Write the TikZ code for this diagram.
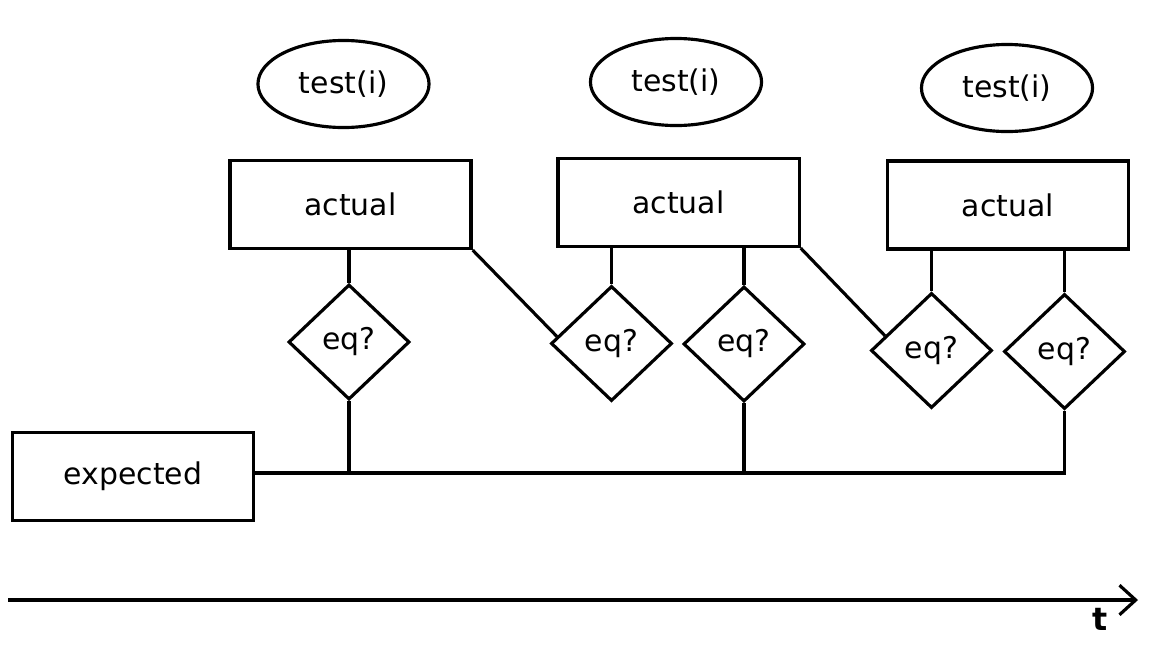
\documentclass[tikz,border=0pt]{standalone}
\usepackage{fontspec}
\setmainfont{DejaVu Sans}
\usetikzlibrary{shapes.geometric,arrows.meta,calc}
\begin{document}
\begin{tikzpicture}[x=0.01cm,y=-0.01cm,
  line width=0.9pt,
  every node/.style={font=\fontsize{8.5}{10}\selectfont, inner sep=0pt},
  testbubble/.style={draw, ellipse, minimum width=1.71cm, minimum height=0.87cm},
  valuebox/.style={draw, rectangle, minimum width=2.41cm, minimum height=0.88cm},
  check/.style={draw, diamond, minimum width=1.21cm, minimum height=1.15cm},
  timeline/.style={-{Straight Barb[length=4.6pt,width=8.4pt,line width=0.9pt]}}]
\useasboundingbox (0,0) rectangle (1152,648);

% test invocations
\node[testbubble] (t1) at (343.5,84) {test(i)};
\node[testbubble] (t2) at (676,82) {test(i)};
\node[testbubble] (t3) at (1007,88) {test(i)};

% actual results
\node[valuebox] (a1) at (350.5,204.5) {actual};
\node[valuebox] (a2) at (678.5,202.5) {actual};
\node[valuebox] (a3) at (1008,205) {actual};

% expected value
\node[valuebox] (e) at (133,476.5) {expected};

% comparisons
\node[check] (d1) at (349,342) {eq?};
\node[check] (d2) at (611.5,343.5) {eq?};
\node[check] (d3) at (744,344) {eq?};
\node[check] (d4) at (931.5,350.5) {eq?};
\node[check] (d5) at (1064.5,351.5) {eq?};

% actual -> comparison
\draw (d1.north) -- (d1.north |- a1.south);
\draw (a1.south east) -- ($(d2.west)!0.12!(d2.north)$);
\draw (d2.north) -- (d2.north |- a2.south);
\draw (d3.north) -- (d3.north |- a2.south);
\draw (a2.south east) -- ($(d4.west)!0.25!(d4.north)$);
\draw (d4.north) -- (d4.north |- a3.south);
\draw (d5.north) -- (d5.north |- a3.south);

% expected bus
\coordinate (bus) at (0,473);
\draw (e.east |- bus) -- (d5.south |- bus) -- (d5.south);
\draw (d1.south) -- (d1.south |- bus);
\draw (d3.south) -- (d3.south |- bus);

% time axis
\coordinate (ts) at (8,600);
\coordinate (te) at (1138,600);
\draw[timeline] (ts) -- (te);
\node[font=\fontsize{9}{10}\selectfont\bfseries] (tl) at (1100,619) {t};
\end{tikzpicture}
\end{document}
